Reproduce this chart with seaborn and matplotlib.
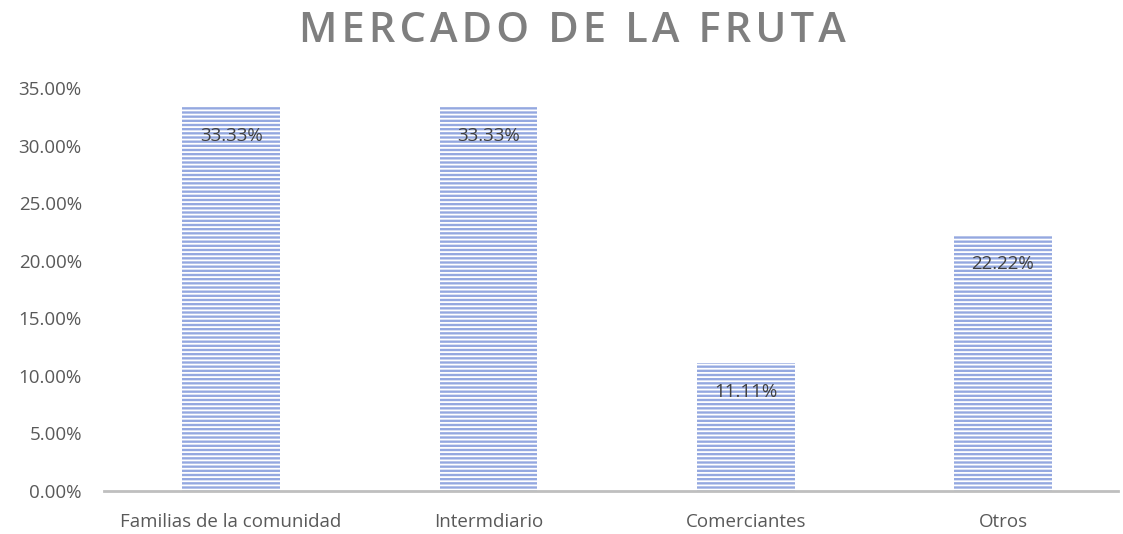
import matplotlib
matplotlib.use("Agg")
import matplotlib.pyplot as plt
import seaborn as sns
import pandas as pd

categories = ["Familias de la comunidad", "Intermdiario", "Comerciantes", "Otros"]
values = [0.3333, 0.3333, 0.1111, 0.2222]
labels = ["33.33%", "33.33%", "11.11%", "22.22%"]
yticks = [0, 0.05, 0.10, 0.15, 0.20, 0.25, 0.30, 0.35]
title = "MERCADO DE LA FRUTA"

sns.set_theme(style="white")
plt.rcParams['font.family'] = ['Open Sans', 'DejaVu Sans']
plt.rcParams['hatch.linewidth'] = 1.3

df = pd.DataFrame({"cat": categories, "val": values})

fig = plt.figure(figsize=(11.23, 5.34), dpi=100)
ax = fig.add_axes([104/1123, 1-491/534, (1118-104)/1123, (491-88)/534])

sns.barplot(data=df, x="cat", y="val", ax=ax, color="#94A8E0", width=0.38,
            saturation=1, edgecolor="white", linewidth=0)
for p in ax.patches:
    p.set_hatch("----")
    p.set_edgecolor("white")
    p.set_linewidth(0)

ax.set_xlim(-0.494, 3.447)
ax.set_ylim(0, 0.35)
ax.set_yticks(yticks)
ax.set_yticklabels([f"{t*100:.2f}%" for t in yticks])
ax.set_xlabel("")
ax.set_ylabel("")
ax.tick_params(axis='both', colors="#595959", labelsize=13.5, length=0)
ax.tick_params(axis='y', pad=16)
ax.tick_params(axis='x', pad=16)
for s in ["top", "right", "left"]:
    ax.spines[s].set_visible(False)
ax.spines["bottom"].set_color("#BFBFBF")
ax.spines["bottom"].set_linewidth(2)

for i, (v, lab) in enumerate(zip(values, labels)):
    ax.annotate(lab, (i, v), xytext=(0, -21), textcoords="offset points",
                ha="center", va="center", fontsize=13.5, color="#404040")

spaced_title = "\u200a".join(title)
fig.text(572/1123, 1-31/534, spaced_title, ha="center", va="center",
         fontsize=30, fontweight="semibold", color="#7F7F7F",
         family=['Open Sans', 'DejaVu Sans'])

fig.savefig("out.png", dpi=100)
